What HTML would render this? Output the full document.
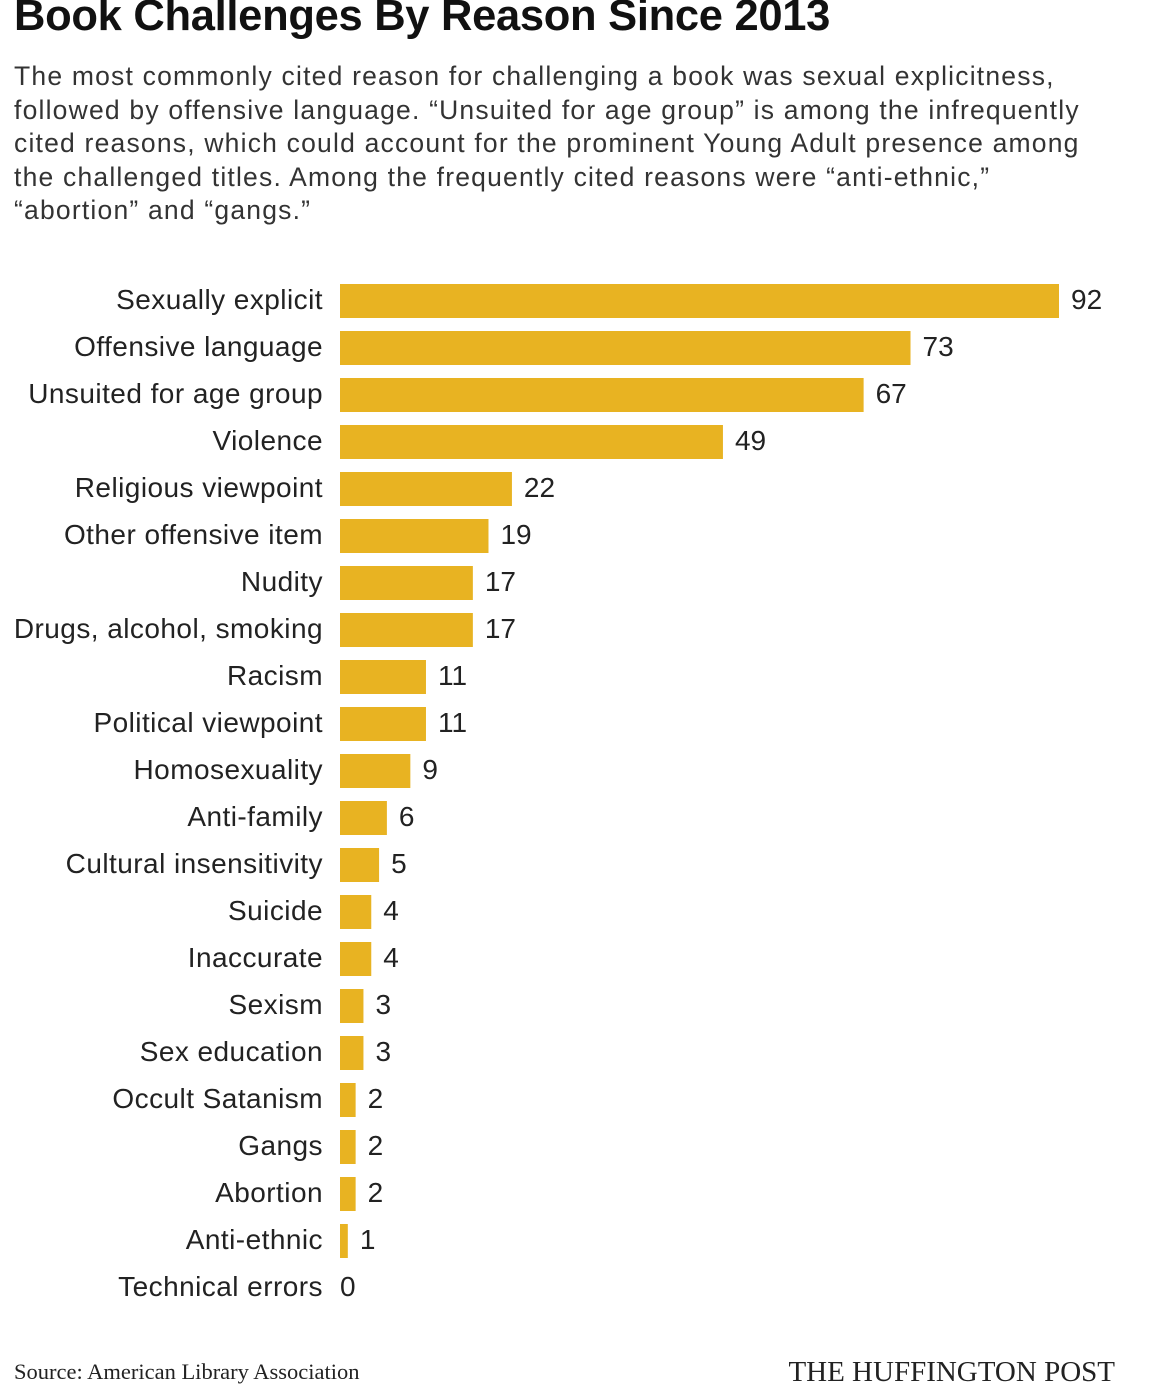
<!DOCTYPE html>
<html><head><meta charset="utf-8">
<style>
html,body{margin:0;padding:0;background:#fff;}
body{width:1162px;height:1392px;position:relative;overflow:hidden;font-family:"Liberation Sans",sans-serif;color:#222;}
#title{position:absolute;left:14px;top:-8px;font-size:43.5px;font-weight:bold;color:#111;white-space:nowrap;letter-spacing:-0.3px;}
#sub{position:absolute;left:14px;top:60px;width:1150px;font-size:26.5px;line-height:33.6px;color:#333;white-space:nowrap;letter-spacing:1.2px;}
#src{position:absolute;left:14px;top:1359px;font-family:"Liberation Serif",serif;font-size:22.5px;color:#222;}
#brand{position:absolute;right:47px;top:1356px;font-family:"Liberation Serif",serif;font-size:29px;color:#222;}
svg{position:absolute;left:0;top:0;}
</style></head><body>
<div id="title">Book Challenges By Reason Since 2013</div>
<div id="sub">The most commonly cited reason for challenging a book was sexual explicitness,<br>followed by offensive language. “Unsuited for age group” is among the infrequently<br>cited reasons, which could account for the prominent Young Adult presence among<br>the challenged titles. Among the frequently cited reasons were “anti-ethnic,”<br>“abortion” and “gangs.”</div>
<svg id="chart" width="1162" height="1392"></svg>
<div id="src">Source: American Library Association</div>
<div id="brand">THE HUFFINGTON POST</div>
<script>
const categories=["Sexually explicit","Offensive language","Unsuited for age group","Violence","Religious viewpoint","Other offensive item","Nudity","Drugs, alcohol, smoking","Racism","Political viewpoint","Homosexuality","Anti-family","Cultural insensitivity","Suicide","Inaccurate","Sexism","Sex education","Occult Satanism","Gangs","Abortion","Anti-ethnic","Technical errors"];
const values=[92,73,67,49,22,19,17,17,11,11,9,6,5,4,4,3,3,2,2,2,1,0];
const NS="http://www.w3.org/2000/svg";
const svg=document.getElementById('chart');
const x0=340, scale=719/92, rowY0=301, rowStep=47, barH=34;
const xS=v=>x0+v*scale;
const yS=i=>rowY0+i*rowStep;
categories.forEach((c,i)=>{
  const cy=yS(i);
  const t=document.createElementNS(NS,'text');
  
  
  t.setAttribute('x',323);t.setAttribute('y',cy+8);
  t.setAttribute('text-anchor','end');t.setAttribute('font-size','28');t.setAttribute('fill','#222');
  t.setAttribute('letter-spacing','0.45');
  t.setAttribute('font-family','Liberation Sans, sans-serif');
  t.textContent=c;svg.appendChild(t);
  const w=xS(values[i])-x0;
  if(w>0){
    const r=document.createElementNS(NS,'rect');
    
    
    r.setAttribute('x',x0);r.setAttribute('y',cy-barH/2);
    r.setAttribute('width',w);r.setAttribute('height',barH);r.setAttribute('fill','#E8B322');
    svg.appendChild(r);
  }
  const v=document.createElementNS(NS,'text');
  
  
  v.setAttribute('x',xS(values[i])+(w>0?12:0));v.setAttribute('y',cy+8);
  v.setAttribute('font-size','28');v.setAttribute('fill','#222');
  v.setAttribute('font-family','Liberation Sans, sans-serif');
  v.textContent=values[i];svg.appendChild(v);
});
</script>
</body></html>
